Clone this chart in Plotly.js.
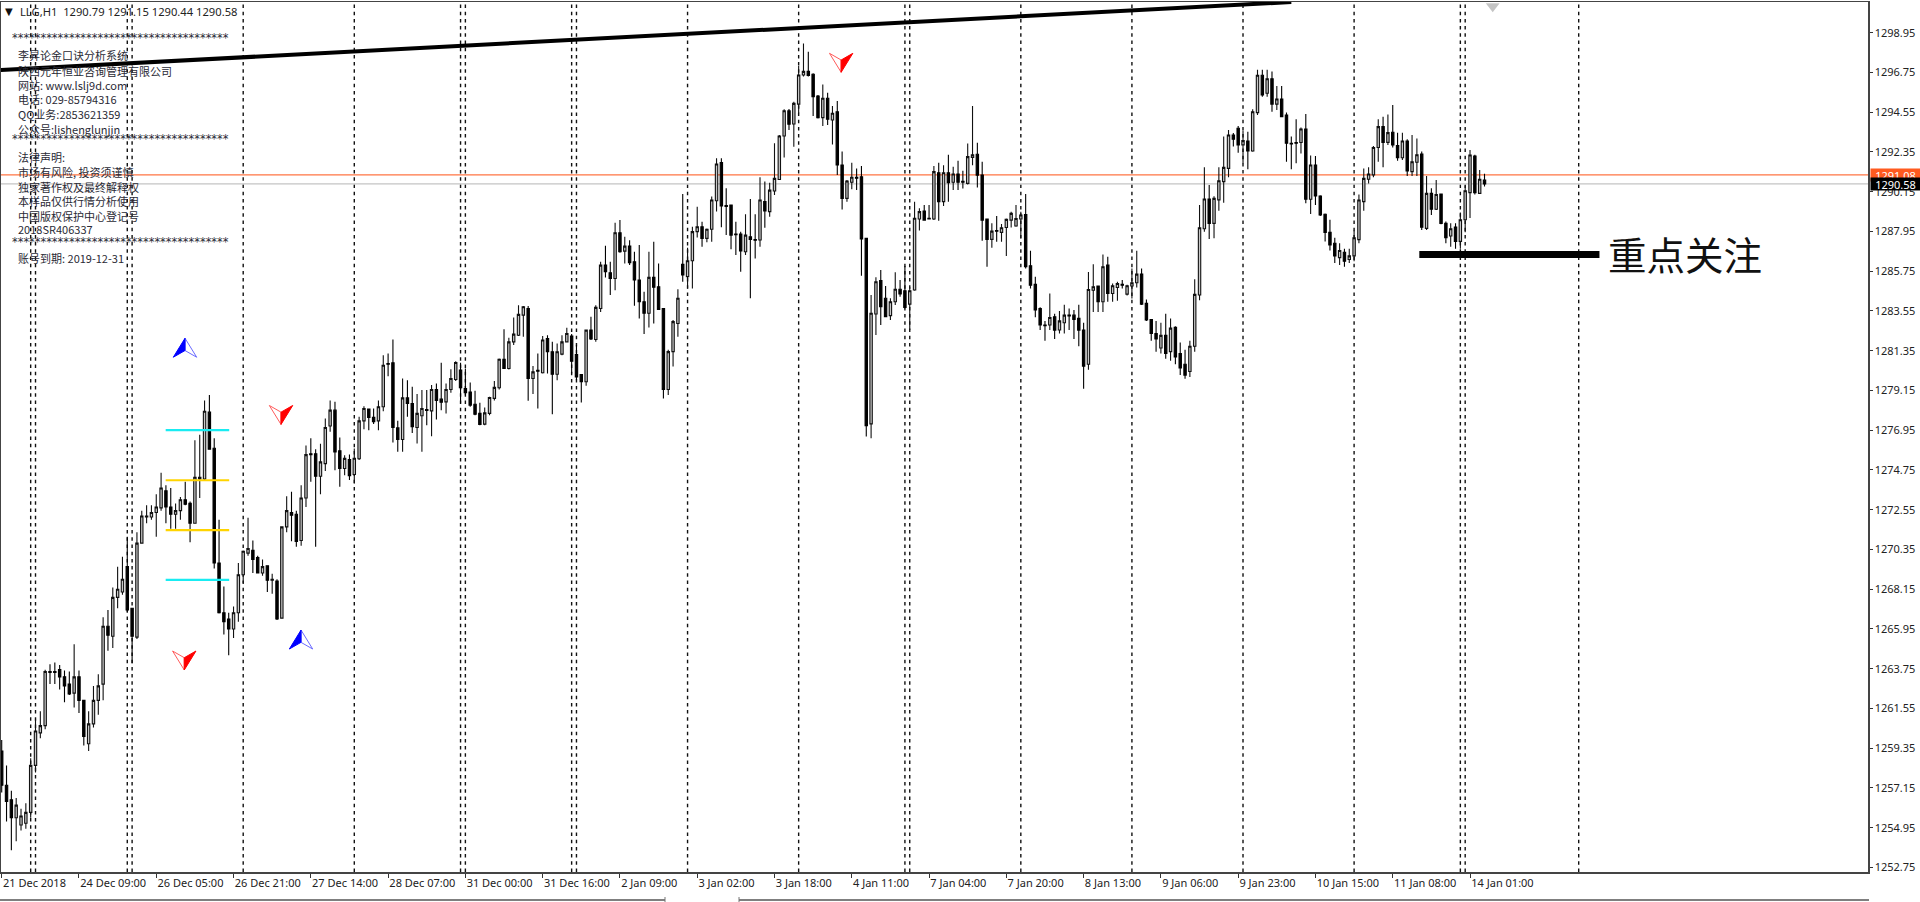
<!DOCTYPE html>
<html><head><meta charset="utf-8">
<script src="https://cdn.plot.ly/plotly-3.0.1.min.js"></script>
<style>html,body{margin:0;padding:0;background:#fff;overflow:hidden}#c{width:1920px;height:902px}</style>
</head><body><div id="c"></div>
<script>
const opens=[1259.2,1257.3,1256.5,1255.5,1255.1,1255.2,1255.8,1258.4,1260.2,1260.6,
1263.6,1263.6,1263.7,1263.3,1262.9,1262.4,1263.3,1262.0,1259.6,1260.7,
1262.0,1262.9,1266.1,1265.55,1267.7,1268.0,1269.4,1267.1,1265.5,1270.7,
1272.15,1272.15,1272.4,1272.65,1273.6,1272.7,1272.3,1272.5,1273.1,1272.9,
1271.8,1274.25,1274.25,1277.95,1275.95,1269.6,1266.85,1266.5,1265.95,1266.85,
1268.95,1270.15,1270.3,1269.9,1269.05,1269.45,1268.65,1268.6,1266.55,1271.6,
1272.4,1272.3,1270.85,1273.2,1275.65,1275.65,1274.4,1275.1,1277.18,1278.06,
1275.81,1274.83,1275.33,1274.5,1275.37,1277.47,1278.12,1277.66,1277.47,1278.25,
1280.64,1280.68,1277.08,1276.44,1278.74,1278.43,1277.1,1277.75,1278.1,1278.02,
1279.2,1278.67,1278.52,1279.2,1279.76,1280.28,1279.26,1279.06,1278.39,1277.88,
1277.29,1277.88,1278.71,1279.3,1280.87,1280.37,1281.84,1282.21,1283.32,1283.69,
1279.81,1280.26,1280.13,1282.03,1281.29,1280.05,1281.16,1281.84,1282.16,1281.14,
1280.03,1279.63,1282.49,1281.97,1283.69,1286.09,1285.66,1285.35,1287.88,1286.86,
1287.14,1286.27,1285.26,1284.06,1283.42,1285.41,1284.89,1283.69,1279.2,1281.3,
1282.86,1286.13,1285.45,1286.33,1287.94,1288.21,1287.57,1288.07,1289.65,1291.76,
1289.38,1289.41,1287.81,1287.81,1286.83,1287.66,1287.5,1287.48,1289.6,1289.05,
1290.19,1290.83,1293.23,1294.63,1293.9,1295.0,1296.61,1296.81,1296.65,1295.45,
1294.25,1295.32,1294.12,1294.58,1291.63,1289.78,1290.67,1290.95,1290.98,1287.57,
1277.3,1283.38,1285.23,1284.25,1283.29,1284.06,1284.75,1284.67,1283.93,1284.71,
1288.64,1289.08,1288.68,1288.64,1291.2,1289.6,1291.2,1290.67,1291.13,1290.72,
1290.61,1292.05,1292.22,1291.07,1288.64,1287.51,1288.0,1287.9,1288.17,1288.58,
1288.25,1288.64,1288.89,1286.05,1285.02,1283.69,1282.77,1282.77,1283.23,1282.5,
1282.9,1283.32,1283.32,1283.14,1282.5,1280.6,1284.7,1284.93,1284.06,1286.09,
1284.52,1284.85,1285.02,1284.48,1284.93,1285.11,1285.59,1283.97,1283.08,1282.3,
1281.5,1282.2,1281.3,1282.64,1281.2,1280.6,1280.2,1281.6,1284.43,1288.1,
1289.75,1288.4,1289.7,1290.71,1291.44,1293.29,1293.66,1292.74,1292.96,1292.4,
1294.53,1296.6,1295.6,1296.4,1295.0,1295.28,1294.4,1292.83,1292.87,1292.87,
1293.62,1289.73,1291.63,1289.91,1288.9,1287.9,1287.3,1286.5,1286.8,1286.4,
1286.6,1287.5,1289.6,1290.84,1291.08,1292.6,1293.75,1292.88,1293.44,1292.7,
1292.03,1292.96,1291.26,1291.78,1292.24,1288.12,1290.06,1289.18,1290.02,1288.4,
1287.7,1288.2,1287.4,1288.6,1290.1,1292.13,1290.06,1290.79];
const highs=[1259.8,1258.4,1257.0,1256.6,1256.0,1256.3,1258.8,1261.0,1261.4,1263.7,
1264.0,1264.1,1263.95,1263.65,1263.6,1265.1,1263.65,1262.0,1261.4,1262.8,
1263.45,1266.6,1267.0,1268.25,1269.4,1269.95,1271.05,1267.1,1271.3,1272.5,
1272.8,1272.8,1273.4,1274.6,1273.9,1273.75,1272.9,1273.25,1274.1,1273.0,
1276.4,1276.7,1278.6,1278.9,1276.5,1272.0,1268.3,1266.85,1267.2,1269.6,
1270.3,1272.1,1270.85,1270.0,1269.8,1269.45,1269.0,1268.7,1271.6,1273.3,
1273.55,1272.5,1273.9,1276.1,1276.5,1275.9,1276.2,1277.6,1278.6,1278.52,
1276.55,1275.57,1275.6,1275.94,1277.69,1278.28,1278.12,1278.15,1278.6,1281.1,
1281.2,1281.97,1277.47,1279.81,1279.72,1279.35,1278.95,1279.17,1279.17,1279.45,
1279.54,1280.68,1279.54,1280.33,1280.77,1280.68,1280.37,1279.59,1279.13,1278.47,
1278.21,1278.8,1279.68,1280.92,1282.54,1282.07,1283.19,1283.87,1283.82,1283.82,
1280.5,1281.2,1282.16,1282.21,1281.84,1281.75,1282.21,1282.62,1282.27,1281.66,
1280.05,1282.49,1283.23,1283.87,1286.27,1287.16,1286.27,1288.43,1288.58,1287.66,
1287.47,1286.83,1287.2,1284.62,1286.83,1287.38,1286.18,1283.69,1281.4,1283.05,
1284.75,1290.02,1287.05,1288.21,1289.32,1288.49,1288.12,1289.88,1292.0,1292.0,
1290.34,1289.41,1288.49,1287.94,1288.9,1289.75,1288.9,1290.95,1290.71,1290.65,
1292.83,1293.29,1294.71,1294.73,1295.13,1297.11,1298.36,1297.9,1296.7,1295.5,
1296.09,1295.63,1294.89,1295.17,1292.37,1290.8,1291.76,1291.44,1291.57,1287.6,
1284.43,1285.41,1285.82,1284.93,1284.25,1285.69,1285.26,1286.04,1284.86,1289.6,
1289.23,1289.41,1289.41,1291.57,1291.75,1291.62,1292.2,1291.53,1291.87,1291.31,
1292.82,1294.89,1292.86,1291.81,1288.67,1288.4,1288.8,1288.36,1288.67,1289.04,
1289.41,1289.04,1290.02,1286.88,1285.44,1283.75,1283.0,1284.52,1283.4,1283.55,
1283.9,1283.69,1283.6,1283.9,1282.9,1285.7,1286.14,1284.95,1286.68,1286.55,
1285.07,1285.17,1285.26,1285.0,1285.9,1286.88,1285.9,1284.19,1283.1,1283.0,
1282.9,1283.4,1283.14,1282.7,1281.8,1281.4,1281.9,1285.3,1289.41,1291.5,
1290.52,1289.9,1291.5,1293.2,1293.57,1293.4,1293.79,1293.53,1293.47,1294.71,
1296.9,1296.9,1296.9,1296.8,1296.0,1296.0,1294.53,1293.2,1294.16,1293.7,
1294.45,1292.15,1292.13,1289.95,1288.95,1288.6,1287.6,1287.3,1287.0,1287.0,
1288.0,1290.0,1291.44,1291.5,1292.68,1294.16,1294.3,1294.43,1294.95,1293.42,
1293.42,1293.05,1293.29,1293.1,1292.37,1291.02,1290.34,1290.8,1290.05,1288.5,
1288.4,1288.4,1289.0,1290.5,1292.46,1292.2,1291.35,1291.15];
const lows=[1256.9,1255.3,1253.7,1254.2,1254.8,1254.9,1255.5,1258.0,1259.9,1260.4,
1262.9,1262.9,1262.6,1261.9,1262.3,1261.6,1261.3,1259.5,1259.2,1260.5,
1261.2,1262.0,1264.75,1264.9,1267.1,1267.85,1266.9,1264.05,1265.4,1270.7,
1271.8,1272.0,1271.05,1272.5,1271.8,1271.5,1271.5,1272.0,1272.8,1270.75,
1271.8,1273.2,1274.2,1275.9,1269.3,1266.8,1265.65,1264.5,1265.45,1266.35,
1268.5,1270.0,1269.05,1269.05,1268.9,1268.0,1267.9,1266.45,1266.55,1271.3,
1270.8,1270.5,1270.55,1272.7,1274.1,1270.5,1273.4,1274.7,1276.86,1274.74,
1273.82,1274.46,1274.19,1274.0,1275.3,1277.0,1276.95,1277.29,1276.95,1278.0,
1279.94,1276.27,1275.76,1275.76,1277.69,1276.8,1276.22,1275.76,1277.23,1276.62,
1277.55,1278.06,1277.88,1279.02,1279.67,1278.43,1278.89,1278.25,1277.78,1277.23,
1277.23,1277.78,1278.6,1279.2,1280.37,1280.31,1281.66,1282.16,1282.12,1278.58,
1278.95,1278.15,1280.09,1280.09,1277.84,1279.72,1281.1,1281.8,1280.09,1279.72,
1278.49,1279.41,1281.94,1281.84,1283.5,1285.4,1284.43,1284.7,1286.77,1286.18,
1286.09,1283.84,1283.14,1282.27,1282.64,1282.86,1283.64,1278.7,1278.9,1280.47,
1282.13,1285.17,1284.8,1284.8,1287.62,1287.1,1287.35,1287.38,1289.05,1288.18,
1287.75,1286.96,1286.65,1285.72,1286.65,1284.25,1286.46,1287.1,1288.16,1288.77,
1289.97,1290.8,1292.05,1293.57,1292.64,1294.49,1296.52,1296.52,1294.34,1294.2,
1293.79,1293.84,1292.77,1291.07,1289.17,1289.6,1290.28,1290.24,1285.5,1276.6,
1276.5,1282.22,1282.77,1283.23,1283.05,1283.88,1284.34,1283.69,1282.5,1284.67,
1288.0,1288.58,1288.62,1288.58,1288.54,1289.36,1289.6,1290.24,1290.24,1290.33,
1290.55,1291.62,1290.39,1287.44,1286.0,1287.05,1287.38,1287.38,1286.59,1288.17,
1288.21,1287.57,1285.9,1284.8,1283.2,1282.49,1281.9,1282.49,1282.0,1282.3,
1282.3,1282.5,1282.0,1281.6,1279.25,1280.3,1283.5,1283.5,1283.5,1284.06,
1284.06,1284.12,1284.8,1284.4,1284.24,1284.85,1283.88,1283.0,1281.9,1281.3,
1281.2,1280.9,1280.8,1280.6,1280.0,1279.8,1279.9,1281.3,1284.15,1287.93,
1287.53,1287.57,1289.1,1289.54,1290.95,1292.65,1292.31,1291.72,1291.39,1292.36,
1294.4,1295.4,1295.4,1294.58,1294.67,1294.27,1291.81,1291.39,1291.72,1292.27,
1289.51,1288.92,1289.41,1288.8,1287.4,1286.9,1286.2,1286.1,1286.0,1286.2,
1286.3,1287.3,1289.1,1290.6,1290.95,1291.81,1291.5,1292.74,1292.6,1291.87,
1291.9,1291.02,1291.02,1291.02,1288.03,1288.03,1288.86,1289.14,1288.35,1287.3,
1287.1,1287.0,1287.0,1287.9,1288.7,1290.0,1290.06,1290.44];
const closes=[1257.3,1256.4,1255.5,1256.2,1255.6,1255.8,1258.4,1260.3,1260.6,1263.6,
1263.55,1263.55,1263.3,1262.8,1262.35,1263.3,1262.0,1260.0,1260.7,1262.0,
1262.8,1266.1,1265.6,1267.7,1268.15,1268.7,1267.0,1265.55,1270.7,1272.2,
1272.2,1272.4,1272.7,1273.75,1272.7,1272.3,1272.5,1273.1,1272.85,1271.8,
1274.35,1274.35,1278.0,1275.9,1269.6,1266.85,1266.35,1265.95,1266.85,1268.95,
1270.25,1270.4,1269.8,1269.05,1269.4,1268.65,1268.7,1266.5,1271.6,1272.5,
1272.25,1270.8,1273.2,1275.6,1275.6,1274.4,1275.2,1277.1,1278.06,1275.75,
1274.83,1275.39,1274.43,1275.4,1277.47,1278.15,1277.66,1277.42,1278.25,1280.55,
1280.6,1277.1,1276.44,1278.74,1278.43,1277.14,1277.88,1278.15,1278.05,1279.2,
1278.6,1278.5,1279.2,1279.81,1280.7,1279.3,1279.02,1278.34,1277.84,1277.27,
1277.91,1278.76,1279.32,1280.88,1280.37,1281.84,1282.27,1283.36,1283.78,1279.81,
1280.18,1280.22,1281.94,1281.29,1280.05,1281.29,1281.84,1282.3,1280.77,1279.9,
1279.63,1282.49,1282.0,1283.75,1286.09,1285.72,1285.35,1287.88,1286.83,1287.14,
1286.22,1285.26,1284.06,1283.42,1285.41,1284.86,1283.64,1279.2,1281.3,1282.96,
1284.25,1285.54,1286.33,1287.94,1288.21,1287.57,1288.07,1289.69,1291.68,1289.36,
1289.34,1287.75,1287.77,1286.87,1287.75,1287.51,1287.47,1289.69,1289.08,1290.24,
1290.89,1293.23,1294.63,1293.88,1295.04,1296.61,1296.81,1296.59,1295.41,1294.25,
1295.32,1294.16,1294.49,1291.63,1289.78,1290.74,1290.95,1290.9,1287.53,1277.2,
1283.42,1285.17,1283.79,1283.23,1284.06,1284.75,1284.49,1283.75,1284.67,1288.68,
1289.05,1288.58,1288.64,1291.26,1289.6,1291.2,1290.65,1291.13,1290.67,1290.68,
1292.09,1292.2,1291.07,1288.58,1287.51,1287.97,1287.96,1288.16,1288.62,1288.95,
1288.67,1288.86,1286.0,1284.98,1283.6,1282.77,1282.73,1283.19,1282.49,1283.0,
1283.32,1283.28,1283.08,1282.49,1280.5,1284.74,1284.89,1284.06,1286.0,1284.52,
1284.95,1285.07,1284.98,1284.95,1285.11,1285.59,1283.93,1283.05,1282.3,1282.0,
1282.2,1281.2,1282.6,1281.0,1280.4,1280.0,1281.6,1284.47,1288.16,1289.75,
1288.4,1289.78,1290.76,1291.5,1293.29,1293.05,1292.74,1292.98,1292.4,1294.58,
1296.6,1295.5,1296.4,1295.0,1295.28,1294.3,1292.83,1292.8,1292.83,1293.62,
1289.73,1291.63,1289.91,1288.86,1287.9,1287.2,1286.6,1286.9,1286.3,1286.6,
1287.6,1289.69,1290.89,1291.13,1292.6,1293.75,1292.88,1293.42,1292.74,1292.03,
1292.96,1291.3,1291.81,1292.2,1288.18,1290.06,1289.18,1290.0,1288.4,1287.6,
1288.1,1287.4,1288.6,1290.2,1292.18,1290.09,1290.84,1290.58];

const barIndex=opens.map((_,i)=>i);
const xTickLabels=['21 Dec 2018','24 Dec 09:00','26 Dec 05:00','26 Dec 21:00','27 Dec 14:00','28 Dec 07:00','31 Dec 00:00','31 Dec 16:00','2 Jan 09:00','3 Jan 02:00','3 Jan 18:00','4 Jan 11:00','7 Jan 04:00','7 Jan 20:00','8 Jan 13:00','9 Jan 06:00','9 Jan 23:00','10 Jan 15:00','11 Jan 08:00','14 Jan 01:00'];
const barsPerXTick=16;
const yTickValues=[1298.95,1296.75,1294.55,1292.35,1290.15,1287.95,1285.75,1283.55,1281.35,1279.15,1276.95,1274.75,1272.55,1270.35,1268.15,1265.95,1263.75,1261.55,1259.35,1257.15,1254.95,1252.75];
const separatorBars=[6,7,26,27,50,73,95,96,118,119,142,165,187,188,211,234,257,280,302,303,326.5];
const askPrice=1291.08, bidPrice=1290.58;
const trendBars=[-1,267], trendPrices=[1296.87,1300.65];
const levelBars=[33.95,47.1];
const cyanLevels=[1276.96,1268.67], goldLevels=[1274.18,1271.42];
const focusBars=[293.5,330.8], focusPrices=[1286.67,1286.67];
const upArrowBars=[37.95,61.97], upArrowPrices=[1282.04,1265.89];
const downArrowBars=[57.83,37.8,173.8], downArrowPrices=[1277.27,1263.68,1296.76];
const headerText='LLG,H1&nbsp;&nbsp;1290.79 1291.15 1290.44 1290.58';
const stars='*'.repeat(38);
const commentLines=[[38.5,stars],[55,'李昇论金口诀分析系统'],[70.7,'陕西元年恒业咨询管理有限公司'],[85,'网站: www.lslj9d.com'],[99.5,'电话: 029-85794316'],[114,'QQ业务:2853621359'],[128.7,'公众号:lishenglunjin'],[139,stars],[157.3,'法律声明:'],[172,'市场有风险, 投资须谨慎'],[186.7,'独家著作权及最终解释权'],[201.3,'本样品仅供行情分析使用'],[215.5,'中国版权保护中心登记号'],[229,'2018SR406337'],[242.5,stars],[258,'账号到期: 2019-12-31']];

const W=1920,H=902,mL=1,mR=52,mT=2,mB=30;
const pw=W-mL-mR, ph=H-mT-mB;
const fx=x=>(x-mL)/pw, fy=y=>1-(y-mT)/ph;
const CJK='"Noto Sans CJK SC","Noto Sans",sans-serif';
const UI='"Noto Sans","Noto Sans CJK SC",sans-serif';

const traces=[];
traces.push({type:'scatter',mode:'lines',x:trendBars,y:trendPrices,line:{color:'#000',width:4},hoverinfo:'skip',cliponaxis:true});
const seg=(levels,color)=>levels.forEach(v=>traces.push({type:'scatter',mode:'lines',x:levelBars,y:[v,v],line:{color:color,width:2.2},hoverinfo:'skip'}));
traces.push({type:'candlestick',x:barIndex,open:opens,high:highs,low:lows,close:closes,
 increasing:{line:{color:'#111',width:1.1},fillcolor:'#c8c8c8'},
 decreasing:{line:{color:'#000',width:1.1},fillcolor:'#000'},
 whiskerwidth:0,hoverinfo:'skip'});
seg(cyanLevels,'#19ecf2'); seg(goldLevels,'#ffd400');
traces.push({type:'scatter',mode:'lines',x:focusBars,y:focusPrices,line:{color:'#000',width:7},hoverinfo:'skip'});
traces.push({type:'scatter',mode:'markers',x:[308.7],y:[1300.42],marker:{symbol:'triangle-down',size:12,color:'#c4c4c4'},hoverinfo:'skip',cliponaxis:false});

const aw=2.42, ah=1.05, an=0.37;
const poly=(xs,ys,fill,line)=>traces.push({type:'scatter',mode:'lines',x:xs,y:ys,fill:'toself',fillcolor:fill,line:{color:line,width:1},hoverinfo:'skip'});
upArrowBars.forEach((b,k)=>{const p=upArrowPrices[k];
 poly([b,b+aw,b,b],[p,p-ah,p-ah+an,p],'#ffffff','#6a6aff');
 poly([b,b-aw,b,b],[p,p-ah,p-ah+an,p],'#0000ff','#0000ff');});
downArrowBars.forEach((b,k)=>{const p=downArrowPrices[k];
 poly([b,b-aw,b,b],[p,p+ah,p+ah-an,p],'#ffffff','#ff5a5a');
 poly([b,b+aw,b,b],[p,p+ah,p+ah-an,p],'#ff0000','#ff0000');});

const shapes=[];
separatorBars.forEach(b=>shapes.push({type:'line',xref:'x',yref:'paper',x0:b,x1:b,y0:0,y1:1,layer:'below',line:{color:'#111',width:1.4,dash:'3.5px,3.7px'}}));
shapes.push({type:'line',xref:'paper',yref:'y',x0:0,x1:1,y0:askPrice,y1:askPrice,layer:'below',line:{color:'#ff7443',width:1.2}});
shapes.push({type:'line',xref:'paper',yref:'y',x0:0,x1:1,y0:bidPrice,y1:bidPrice,layer:'below',line:{color:'#c4c4c4',width:1.2}});
[[0,665],[739,1869]].forEach(r=>shapes.push({type:'line',xref:'paper',yref:'paper',x0:fx(r[0]),x1:fx(r[1]),y0:fy(900),y1:fy(900),line:{color:'#555',width:1.5}}));
[665,739].forEach(x=>shapes.push({type:'line',xref:'paper',yref:'paper',x0:fx(x),x1:fx(x),y0:fy(897),y1:fy(902),line:{color:'#777',width:1}}));

const ann=[];
const txt=(x,y,t,size,color,font,extra)=>ann.push(Object.assign({xref:'paper',yref:'paper',x:fx(x),y:fy(y),text:t,showarrow:false,xanchor:'left',yanchor:'middle',align:'left',borderpad:0,font:{size:size,color:color,family:font}},extra||{}));
ann.push({xref:'paper',yref:'paper',x:fx(9.3),y:fy(11.5),text:'▼',showarrow:false,xanchor:'center',yanchor:'middle',font:{size:10,color:'#111',family:'"DejaVu Sans"'}});
txt(19,11.5,headerText,11.2,'#222',UI);
commentLines.forEach(l=>{const isStar=l[1][0]==='*';txt(isStar?11:17.3,l[0],l[1],isStar?11.4:11,'#2a2a35',isStar?'"DejaVu Sans"':CJK);});
txt(1607,253,'重点关注',38.5,'#111',CJK);
[[askPrice,'#ff5a1f','#fff'],[bidPrice,'#000','#fff']].forEach(a=>ann.push({xref:'paper',yref:'y',x:fx(1870),y:a[0],text:a[0].toFixed(2),showarrow:false,xanchor:'left',yanchor:'middle',bgcolor:a[1],width:49,height:12,align:'center',borderpad:0,font:{size:11,color:a[2],family:UI}}));

Plotly.newPlot('c',traces,{
 width:W,height:H,margin:{l:mL,r:mR,t:mT,b:mB},paper_bgcolor:'#fff',plot_bgcolor:'#fff',
 showlegend:false,dragmode:false,boxgap:0.3,
 xaxis:{type:'linear',range:[(mL-1.7)/4.83,(W-mR-1.7)/4.83],rangeslider:{visible:false},showgrid:false,zeroline:false,
  tickmode:'array',tickvals:xTickLabels.map((_,k)=>k*barsPerXTick),ticktext:xTickLabels,tickangle:0,ticks:'outside',ticklen:4,tickcolor:'#333',tickwidth:1,
  ticklabelposition:'outside right',tickfont:{family:UI,size:11,color:'#222'},showline:true,linecolor:'#444',linewidth:1.5,mirror:true,automargin:false},
 yaxis:{type:'linear',side:'right',range:[1252.5,1300.65],showgrid:false,zeroline:false,tickmode:'array',tickvals:yTickValues,ticktext:yTickValues.map(v=>v.toFixed(2)),
  ticks:'outside',ticklen:3,tickcolor:'#333',tickfont:{family:UI,size:11,color:'#222'},showline:true,linecolor:'#444',linewidth:1.5,mirror:true,automargin:false},
 shapes:shapes,annotations:ann
},{staticPlot:true,displayModeBar:false});
</script></body></html>
